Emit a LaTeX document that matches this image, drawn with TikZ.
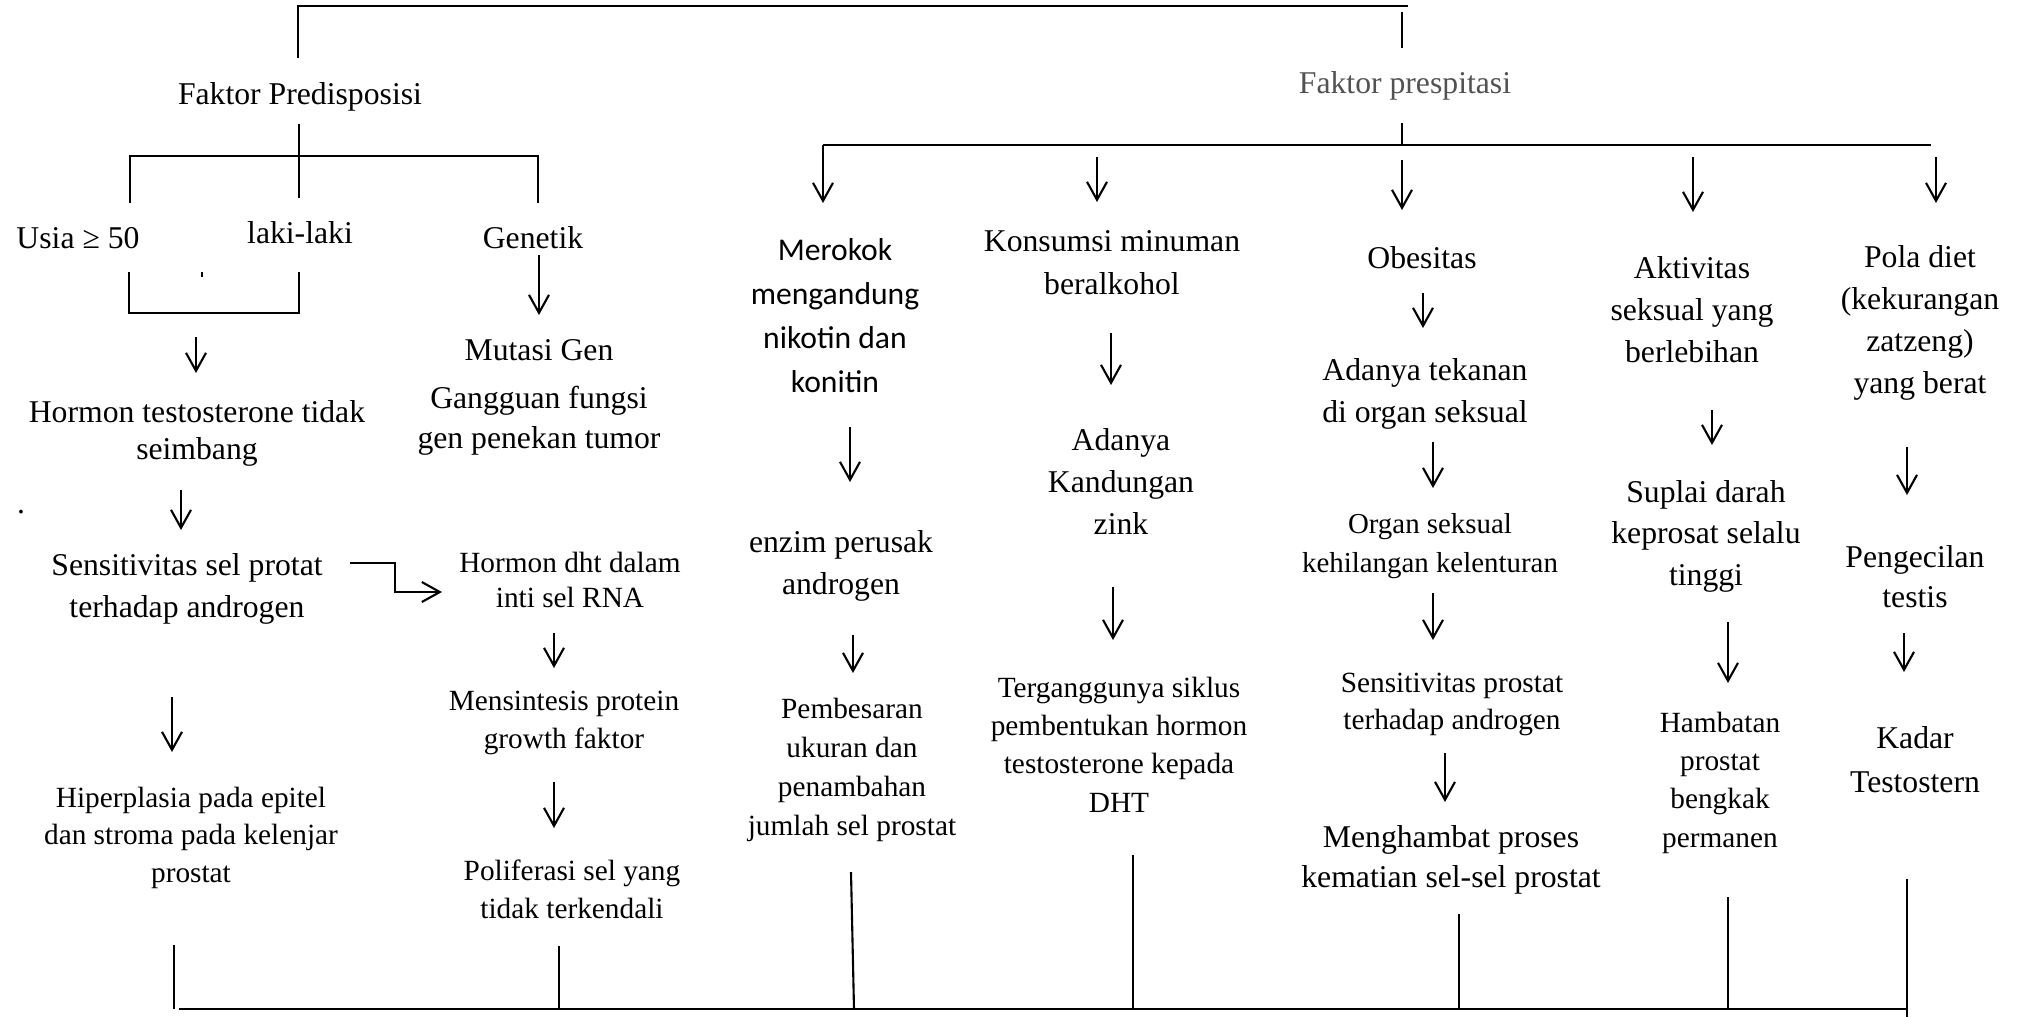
\documentclass[tikz,border=0pt]{standalone}
\usepackage{fontspec}
\setmainfont{Liberation Serif}
\newfontfamily\carlitofont{Carlito}
\usetikzlibrary{arrows.meta}
\begin{document}
\begin{tikzpicture}[x=0.1mm,y=-0.1mm,
  txt/.style={inner sep=0pt, outer sep=0pt, anchor=north, align=flush center, text width=40mm, execute at begin node=\strut},
  fz/.style 2 args={font=\fontsize{#1pt}{#2pt}\selectfont},
  ln/.style={line width=0.6pt},
  bar/.style={line width=0.75pt},
  arr/.style={line width=0.6pt, -{Straight Barb[length=1.8mm,width=2mm]}}]
\useasboundingbox (0,0) rectangle (2024,1017);

% ---------- texts: left part ----------
\node[txt, fz={9.02}{11.95}] (fp) at (300,74.6) {Faktor Predisposisi};
\node[txt, fz={9.02}{11.95}, text=black!68] (fpr) at (1405,63.6) {Faktor prespitasi};
\node[txt, fz={9.02}{11.95}] (usia) at (78,218.6) {Usia ≥ 50};
\node[txt, fz={9.02}{11.95}] (laki) at (300,213.6) {laki-laki};
\node[txt, fz={9.02}{11.95}] (gen) at (533,218.6) {Genetik};
\node[txt, fz={9.02}{10.53}] (horm) at (197,396.1) {Hormon testosterone tidak\\seimbang};
\node[txt, fz={9.02}{11.95}] (dot) at (21,483.6) {.};
\node[txt, fz={9.02}{11.95}] (sens) at (187,545.6) {Sensitivitas sel protat\\terhadap androgen};
\node[txt, fz={9.02}{11.95}] (mut) at (539,330.6) {Mutasi Gen};
\node[txt, fz={9.02}{11.38}] (gang) at (539,380) {Gangguan fungsi\\gen penekan tumor};
\node[txt, fz={8.34}{10.24}] (dht) at (570,546.8) {Hormon dht dalam\\inti sel RNA};
\node[txt, fz={8.34}{10.81}] (mens) at (564,683.4) {Mensintesis protein\\growth faktor};
\node[txt, fz={8.34}{10.81}] (poli) at (572,853.4) {Poliferasi sel yang\\tidak terkendali};
\node[txt, fz={8.34}{10.67}] (hiper) at (191,780.75) {Hiperplasia pada epitel\\dan stroma pada kelenjar\\prostat};

% ---------- texts: right part ----------
\node[txt, font={\carlitofont\fontsize{9pt}{12.52pt}\selectfont}] (mero) at (835,229.2) {Merokok\\mengandung\\nikotin dan\\konitin};
\node[txt, fz={9.02}{12.23}] (kons) at (1112,221.9) {Konsumsi minuman\\beralkohol};
\node[txt, fz={9.02}{12.23}] (enz) at (841,521.9) {enzim perusak\\androgen};
\node[txt, fz={9.02}{11.95}] (adz) at (1121,420.6) {Adanya\\Kandungan\\zink};
\node[txt, fz={8.34}{11.10}] (pemb) at (852,690.7) {Pembesaran\\ukuran dan\\penambahan\\jumlah sel prostat};
\node[txt, fz={8.34}{10.95}] (terg) at (1119,670.05) {Terganggunya siklus\\pembentukan hormon\\testosterone kepada\\DHT};
\node[txt, fz={9.02}{11.95}] (obes) at (1422,238.6) {Obesitas};
\node[txt, fz={9.02}{11.95}] (tek) at (1425,350.6) {Adanya tekanan\\di organ seksual};
\node[txt, fz={8.22}{11.10}] (org) at (1430,505.7) {Organ seksual\\kehilangan kelenturan};
\node[txt, fz={8.34}{10.53}] (sensp) at (1452,666.1) {Sensitivitas prostat\\terhadap androgen};
\node[txt, fz={9.02}{11.38}] (meng) at (1451,819) {Menghambat proses\\kematian sel-sel prostat};
\node[txt, fz={9.02}{12.09}] (akt) at (1692,248.25) {Aktivitas\\seksual yang\\berlebihan};
\node[txt, fz={9.02}{11.81}] (sup) at (1706,472.95) {Suplai darah\\keprosat selalu\\tinggi};
\node[txt, fz={8.34}{10.95}] (hamb) at (1720,705.05) {Hambatan\\prostat\\bengkak\\permanen};
\node[txt, fz={9.02}{11.86}] (pola) at (1920,238.8) {Pola diet\\(kekurangan\\zatzeng)\\yang berat};
\node[txt, fz={9.02}{11.38}] (peng) at (1915,539) {Pengecilan\\testis};
\node[txt, fz={9.02}{12.52}] (kadar) at (1915,717.2) {Kadar\\Testostern};

% ---------- top structure ----------
\draw[bar] (298,58) -- (298,6) -- (1408,6);
\draw[ln] (1402,12) -- (1402,48);
\draw[ln] (299,124) -- (299,198);
\draw[bar] (130,203) -- (130,156) -- (538,156) -- (538,203);
\draw[ln] (1402,123) -- (1402,145);
\draw[bar] (823,145) -- (1931,145);

% bracket under Usia / laki-laki
\draw[bar] (129,272) -- (129,313) -- (299,313) -- (299,272);
\draw[ln] (202,272) -- (202,277);

% ---------- arrows ----------
\draw[arr] (823,145) -- (823,203);
\draw[arr] (1097,157) -- (1097,202);
\draw[arr] (1402,160) -- (1402,210);
\draw[arr] (1693,157) -- (1693,212);
\draw[arr] (1936,157) -- (1936,203);

\draw[arr] (539,255) -- (539,315);
\draw[arr] (196,337) -- (196,373);
\draw[arr] (181,490) -- (181,530);
\draw[arr] (172,697) -- (172,752);
\draw[arr] (350,563) -- (395,563) -- (395,592) -- (442,592);
\draw[arr] (554,633) -- (554,668);
\draw[arr] (554,782) -- (554,828);

\draw[arr] (850,427) -- (850,482);
\draw[arr] (853,635) -- (853,673);
\draw[arr] (1111,333) -- (1111,385);
\draw[arr] (1113,587) -- (1113,640);

\draw[arr] (1423,293) -- (1423,328);
\draw[arr] (1433,442) -- (1433,488);
\draw[arr] (1433,593) -- (1433,640);
\draw[arr] (1445,753) -- (1445,802);

\draw[arr] (1712,410) -- (1712,445);
\draw[arr] (1728,622) -- (1728,683);
\draw[arr] (1907,447) -- (1907,495);
\draw[arr] (1904,633) -- (1904,672);

% ---------- bottom structure ----------
\draw[bar] (179,1009) -- (1907,1009);
\draw[ln] (174,945) -- (174,1009);
\draw[ln] (559,946) -- (559,1009);
\draw[ln] (851,872) -- (854,1009);
\draw[ln] (1133,855) -- (1133,1009);
\draw[ln] (1459,914) -- (1459,1009);
\draw[ln] (1728,897) -- (1728,1009);
\draw[ln] (1907,879) -- (1907,1017);
\end{tikzpicture}
\end{document}
